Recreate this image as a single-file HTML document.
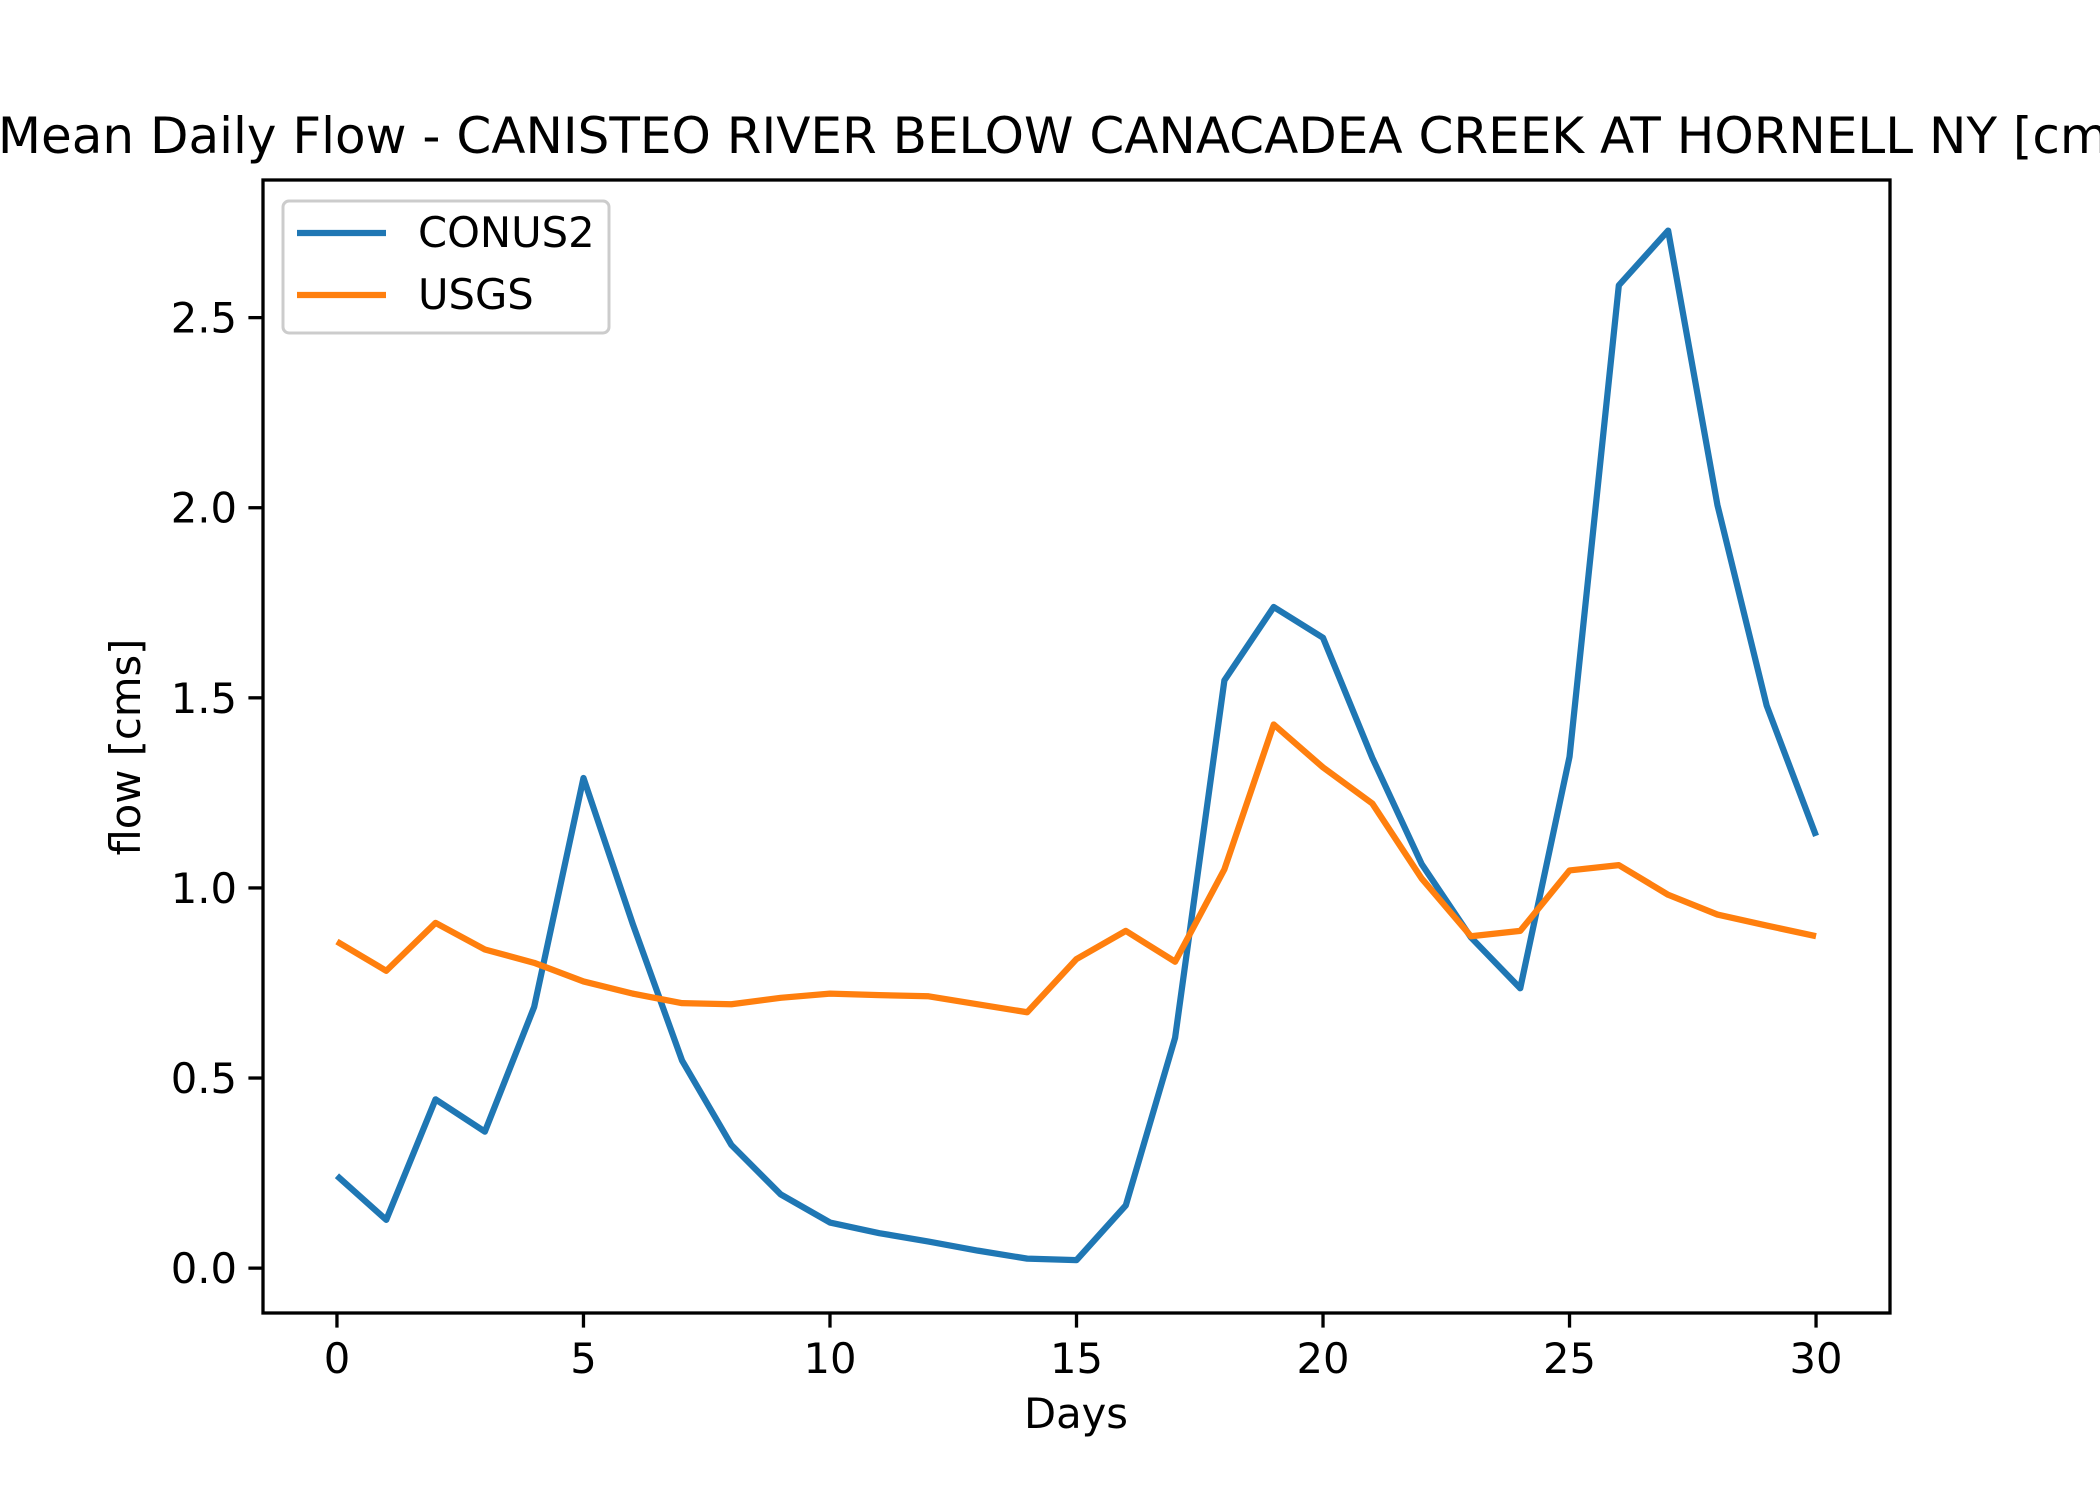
<!DOCTYPE html>
<html><head><meta charset="utf-8"><style>html,body{margin:0;padding:0;background:#fff}svg{display:block}text{font-family:"DejaVu Sans","Liberation Sans",sans-serif;fill:#000}</style></head>
<body>
<svg id="chart" width="2100" height="1500" viewBox="0 0 2100 1500" xmlns="http://www.w3.org/2000/svg">
<rect width="2100" height="1500" fill="#fff"/>
<text x="1076" y="153" font-size="50" text-anchor="middle">Mean Daily Flow - CANISTEO RIVER BELOW CANACADEA CREEK AT HORNELL NY [cms]</text>
<g id="ticks"></g>
<g id="series"></g>
<rect x="263" y="180" width="1627" height="1133" fill="none" stroke="#000" stroke-width="3.3"/>
<text x="1076" y="1428" font-size="41.7" text-anchor="middle">Days</text>
<text x="140" y="747" font-size="41.7" text-anchor="middle" transform="rotate(-90 140 747)">flow [cms]</text>
<g>
<rect x="283" y="201" width="326" height="132" rx="6" fill="#fff" fill-opacity="0.8" stroke="#ccc" stroke-width="3"/>
<line x1="297" y1="233" x2="386" y2="233" stroke="#1f77b4" stroke-width="6.25"/>
<text x="418" y="247" font-size="41.7">CONUS2</text>
<line x1="297" y1="295" x2="386" y2="295" stroke="#ff7f0e" stroke-width="6.25"/>
<text x="418" y="309" font-size="41.7">USGS</text>
</g>
</svg>
<script>
const days = [0,1,2,3,4,5,6,7,8,9,10,11,12,13,14,15,16,17,18,19,20,21,22,23,24,25,26,27,28,29,30];
const conus2 = [0.243,0.127,0.444,0.359,0.687,1.289,0.905,0.546,0.324,0.194,0.120,0.092,0.070,0.046,0.025,0.021,0.165,0.606,1.546,1.739,1.658,1.342,1.063,0.870,0.736,1.345,2.585,2.729,2.007,1.479,1.137];
const usgs = [0.859,0.782,0.908,0.838,0.803,0.754,0.722,0.697,0.694,0.711,0.722,0.718,0.715,0.694,0.673,0.813,0.887,0.806,1.049,1.430,1.317,1.222,1.025,0.873,0.887,1.046,1.060,0.982,0.930,0.901,0.873];
const xTicks = [0,5,10,15,20,25,30];
const yTicks = [0.0,0.5,1.0,1.5,2.0,2.5];
const yTickLabels = ["0.0","0.5","1.0","1.5","2.0","2.5"];
const NS="http://www.w3.org/2000/svg";
const L=263,R=1890,T=180,B=1313;
const xMin=-1.5,xMax=31.5,yMin=-0.118,yMax=2.862;
function xs(v){return L+(v-xMin)/(xMax-xMin)*(R-L);}
function ys(v){return B-(v-yMin)/(yMax-yMin)*(B-T);}
const tg=document.getElementById('ticks');
xTicks.forEach(t=>{
  const l=document.createElementNS(NS,'line');
  l.setAttribute('x1',xs(t));l.setAttribute('x2',xs(t));l.setAttribute('y1',B);l.setAttribute('y2',B+14.6);
  l.setAttribute('stroke','#000');l.setAttribute('stroke-width','3.3');
  
  
  tg.appendChild(l);
  const tx=document.createElementNS(NS,'text');
  tx.setAttribute('x',xs(t));tx.setAttribute('y',B+60);tx.setAttribute('font-size','41.7');tx.setAttribute('text-anchor','middle');
  tx.textContent=String(t);
  
  
  tg.appendChild(tx);
});
yTicks.forEach((t,i)=>{
  const l=document.createElementNS(NS,'line');
  l.setAttribute('x1',L-14.6);l.setAttribute('x2',L);l.setAttribute('y1',ys(t));l.setAttribute('y2',ys(t));
  l.setAttribute('stroke','#000');l.setAttribute('stroke-width','3.3');
  
  
  tg.appendChild(l);
  const tx=document.createElementNS(NS,'text');
  tx.setAttribute('x',L-26);tx.setAttribute('y',ys(t)+15);tx.setAttribute('font-size','41.7');tx.setAttribute('text-anchor','end');
  tx.textContent=yTickLabels[i];
  
  
  tg.appendChild(tx);
});
const sg=document.getElementById('series');
function drawLine(vals,color,name){
  const p=document.createElementNS(NS,'polyline');
  p.setAttribute('points',vals.map((v,i)=>xs(days[i])+','+ys(v)).join(' '));
  p.setAttribute('fill','none');p.setAttribute('stroke',color);p.setAttribute('stroke-width','6.25');p.setAttribute('stroke-linejoin','round');
  
  
  sg.appendChild(p);
}
drawLine(conus2,'#1f77b4','conus2-line');
drawLine(usgs,'#ff7f0e','usgs-line');
</script>
</body></html>
